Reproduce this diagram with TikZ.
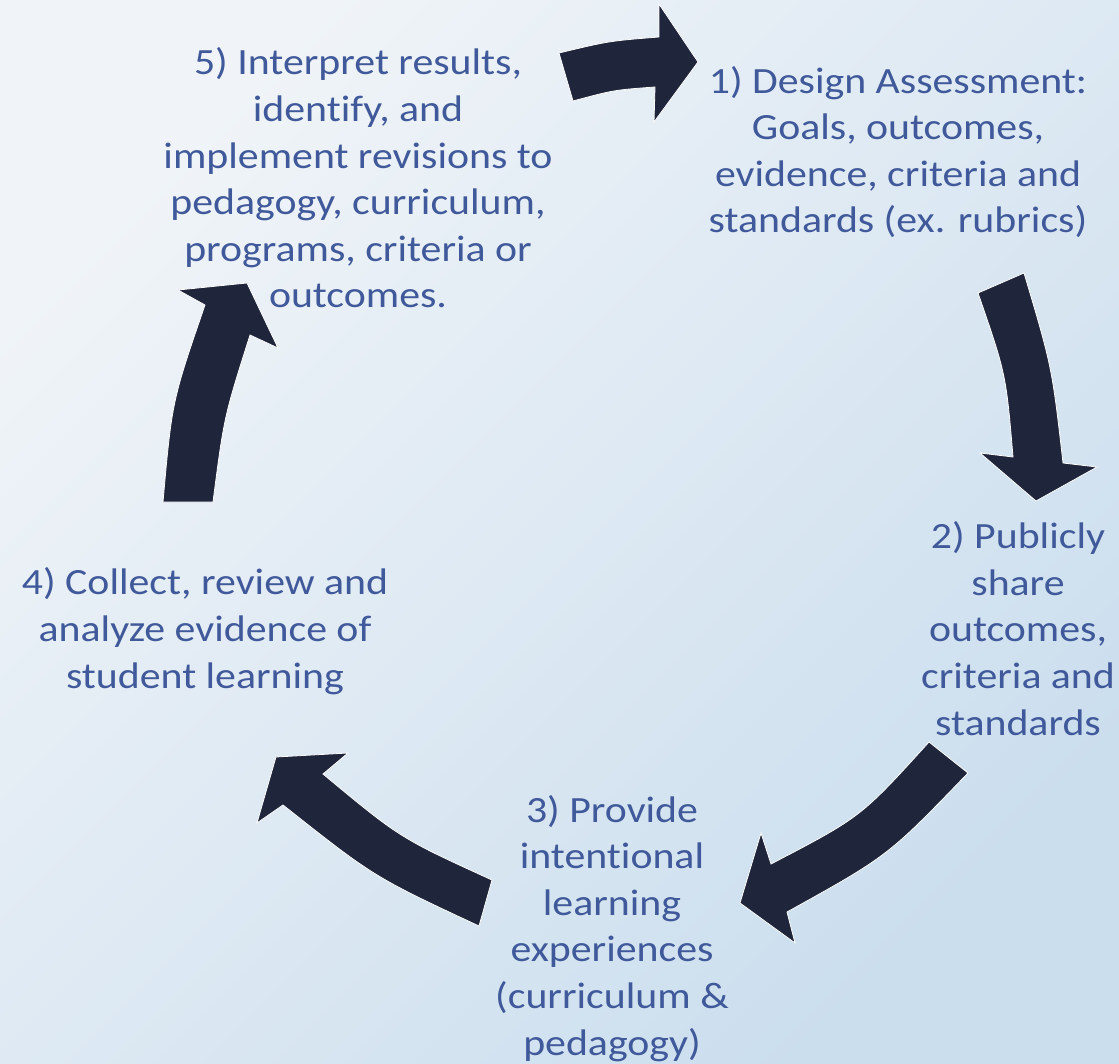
\documentclass[tikz,border=0pt]{standalone}
\usepackage{fontspec}
\setmainfont{Carlito}[FakeStretch=1.13, Ligatures=NoCommon]
\usepackage{tikz}
\usetikzlibrary{positioning}

\definecolor{ArrowNavy}{HTML}{1F253A}
\definecolor{TextBlue}{HTML}{40599A}
\definecolor{BgLight}{HTML}{F0F4F8}
\definecolor{BgDark}{HTML}{CBDEEE}

\tikzset{
  stage/.style={align=center, text=TextBlue, inner sep=0pt,
    font=\fontsize{37}{46.6}\selectfont, anchor=base},
  blockarrow/.style={fill=ArrowNavy, draw=white, line width=0.8pt, line join=miter}
}

\begin{document}
\begin{tikzpicture}[x=1pt,y=-1pt]

\shade[top color=BgLight, bottom color=BgDark, shading angle=45] (0,0) rectangle (1119,1064);
\useasboundingbox (0,0) rectangle (1119,1064);

% base anchor sits on the last line
\node[stage] (design) at (898,233) {1) Design Assessment:\\Goals, outcomes,\\evidence, criteria and\\standards (ex. rubrics)};
\node[stage] (share) at (1018,735) {2) Publicly\\share\\outcomes,\\criteria and\\standards};
\node[stage] (provide) at (612,1055) {3) Provide\\intentional\\learning\\experiences\\(curriculum \&\\pedagogy)};
\node[stage] (collect) at (205,688) {4) Collect, review and\\analyze evidence of\\student learning};
\node[stage] (interpret) at (358,308) {5) Interpret results,\\identify, and\\implement revisions to\\pedagogy, curriculum,\\programs, criteria or\\outcomes.};

% 5 -> 1
\filldraw[blockarrow] (559,53) .. controls (609,41) .. (659,37) -- (659,4) -- (698,62)
  -- (654,122) -- (655,87) .. controls (614,90) .. (573,101) -- cycle;
% 1 -> 2
\filldraw[blockarrow] (978,293) -- (1024,273) .. controls (1052,367) .. (1063,463)
  -- (1097,467) -- (1036,501) -- (980,453) -- (1013,457) .. controls (1006,374) .. cycle;
% 2 -> 3
\filldraw[blockarrow] (929,742) -- (968,773) .. controls (888,856) .. (787,912)
  -- (795,943) -- (740,903) -- (761,833) -- (771,864) .. controls (861,817) .. cycle;
% 3 -> 4
\filldraw[blockarrow] (479,926) -- (492,880) .. controls (400,838) .. (323,774)
  -- (348,753) -- (276,757) -- (257,823) -- (283,805) .. controls (374,877) .. cycle;
% 4 -> 5
\filldraw[blockarrow] (163,502) -- (213,502) .. controls (224,417) .. (250,335)
  -- (278,348) -- (247,283) -- (178,290) -- (205,305) .. controls (172,401) .. cycle;

\end{tikzpicture}
\end{document}
